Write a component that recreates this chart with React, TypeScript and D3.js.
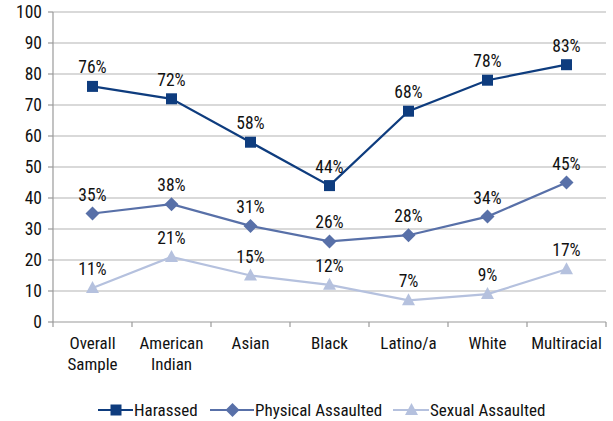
import React from "react";
import * as d3 from "d3";

const categories = ["Overall\nSample", "American\nIndian", "Asian", "Black", "Latino/a", "White", "Multiracial"];
const harassed = [76, 72, 58, 44, 68, 78, 83];
const physical = [35, 38, 31, 26, 28, 34, 45];
const sexual = [11, 21, 15, 12, 7, 9, 17];
const yTicks = [0, 10, 20, 30, 40, 50, 60, 70, 80, 90, 100];
const seriesNames = ["Harassed", "Physical Assaulted", "Sexual Assaulted"];

const W = 613, H = 421;
const left = 53, right = 606, top = 12, bottom = 322;
const FONT = "'Liberation Sans Narrow', 'Arial Narrow', 'Roboto Condensed', 'Liberation Sans', sans-serif";

const colors = ["#0e3c7e", "#5870a8", "#b5c1de"];

function Marker({ type, x, y, color }: { type: number; x: number; y: number; color: string }) {
  if (type === 0) return <rect x={x - 5.5} y={y - 5.5} width={11} height={11} fill={color} />;
  if (type === 1) return <path d={`M${x},${y - 7}L${x + 7},${y}L${x},${y + 7}L${x - 7},${y}Z`} fill={color} />;
  return <path d={`M${x},${y - 7}L${x + 6.5},${y + 5}L${x - 6.5},${y + 5}Z`} fill={color} />;
}

export default function App() {
  const x = d3.scaleBand<string>().domain(categories).range([left, right]).padding(0);
  const y = d3.scaleLinear().domain([0, 100]).range([bottom, top]);
  const cx = (c: string) => (x(c) as number) + x.bandwidth() / 2;
  const series = [harassed, physical, sexual];
  const line = d3.line<[number, number]>().x((d) => d[0]).y((d) => d[1]);
  const legendItems = [
    { lx: 98, tx: 134 },
    { lx: 210, tx: 255 },
    { lx: 393, tx: 430 },
  ];
  return (
    <svg width={W} height={H} style={{ position: "absolute", left: 0, top: 0, background: "#fff" }} fontFamily={FONT}>
      {yTicks.map((t) => (
        <g key={t}>
          {t > 0 && <line x1={left} x2={right} y1={y(t)} y2={y(t)} stroke="#b3b3b3" strokeWidth={1.2} />}
          <line x1={left - 5} x2={left} y1={y(t)} y2={y(t)} stroke="#9a9a9a" strokeWidth={1.2} />
          <text x={left - 11} y={y(t)} dy="0.35em" textAnchor="end" fontSize={17.5} fill="#111">{t}</text>
        </g>
      ))}
      <line x1={left} x2={left} y1={top} y2={bottom} stroke="#9a9a9a" strokeWidth={1.2} />
      <line x1={left} x2={right} y1={bottom} y2={bottom} stroke="#9a9a9a" strokeWidth={1.2} />
      {categories.map((c, i) => (
        <line key={"t" + i} x1={(x(c) as number) + x.bandwidth()} x2={(x(c) as number) + x.bandwidth()} y1={bottom} y2={bottom + 5} stroke="#9a9a9a" strokeWidth={1.2} />
      ))}
      <line x1={left} x2={left} y1={bottom} y2={bottom + 5} stroke="#9a9a9a" strokeWidth={1.2} />
      {categories.map((c, i) => (
        <text key={"c" + i} x={cx(c)} y={bottom + 27} textAnchor="middle" fontSize={17} fill="#111">
          {c.split("\n").map((s, j) => (
            <tspan key={j} x={cx(c)} dy={j === 0 ? 0 : 21}>{s}</tspan>
          ))}
        </text>
      ))}
      {series.map((vals, si) => {
        const pts = vals.map((v, i) => [cx(categories[i]), y(v)] as [number, number]);
        return (
          <g key={si}>
            <path d={line(pts) as string} fill="none" stroke={colors[si]} strokeWidth={2.2} />
            {pts.map((p, i) => (
              <Marker key={i} type={si} x={p[0]} y={p[1]} color={colors[si]} />
            ))}
            {pts.map((p, i) => (
              <text key={"l" + i} x={p[0]} y={p[1] - 13} textAnchor="middle" fontSize={17.5} fill="#111">{vals[i]}%</text>
            ))}
          </g>
        );
      })}
      {seriesNames.map((n, i) => {
        const it = legendItems[i];
        const ly = 410;
        return (
          <g key={n}>
            <line x1={it.lx} x2={it.tx - 1} y1={ly} y2={ly} stroke={colors[i]} strokeWidth={2.2} />
            <Marker type={i} x={(it.lx + it.tx) / 2} y={ly} color={colors[i]} />
            <text x={it.tx} y={ly} dy="0.35em" fontSize={17} fill="#111">{n}</text>
          </g>
        );
      })}
    </svg>
  );
}
